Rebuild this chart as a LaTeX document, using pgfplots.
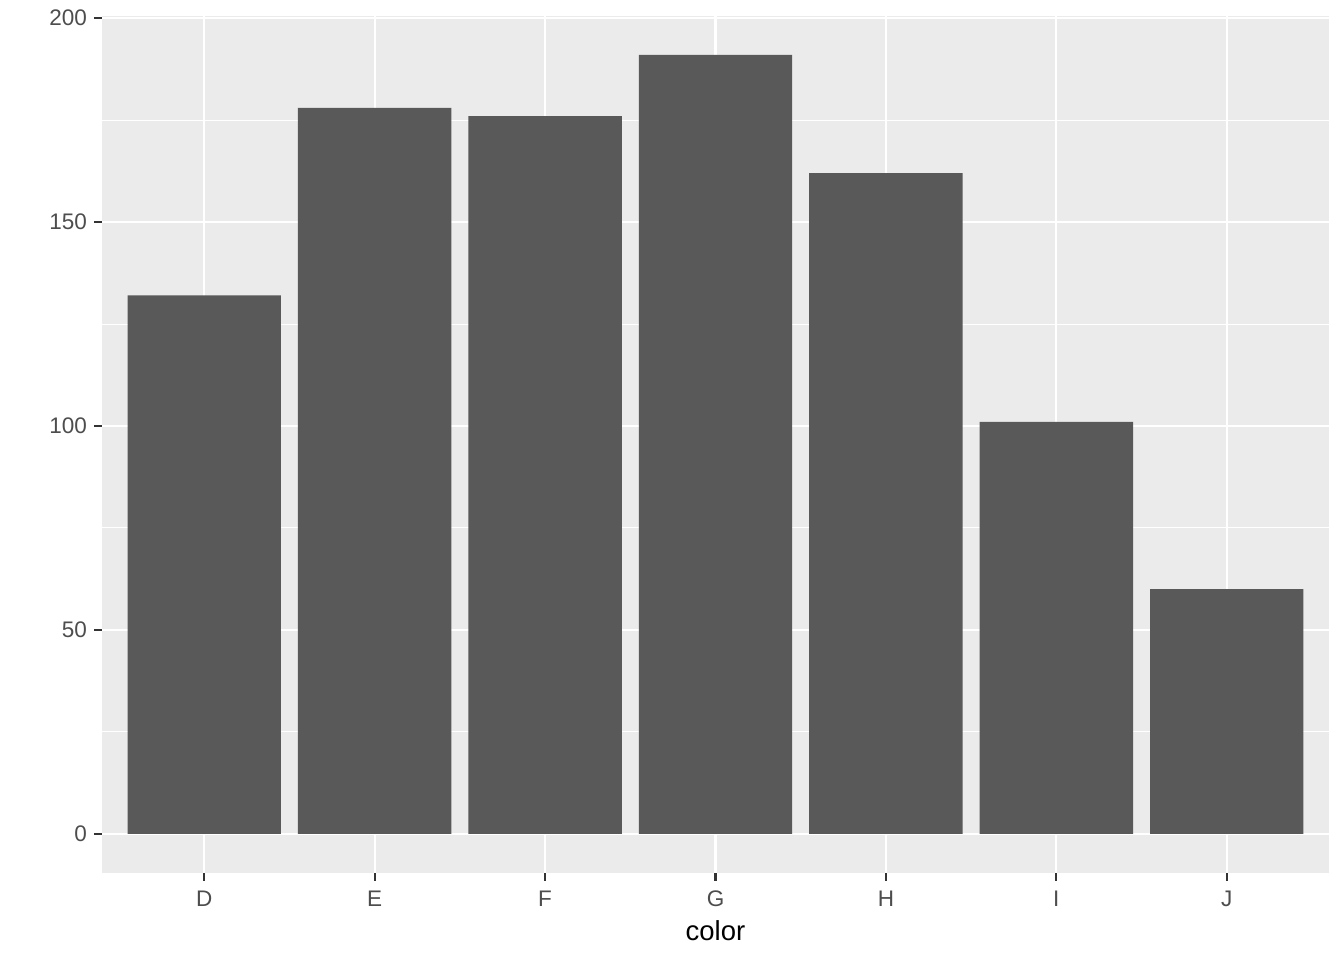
\documentclass[border=0pt]{standalone}
\usepackage{pgfplots}
\pgfplotsset{compat=1.18}
\usepackage{fontspec}
\setmainfont{Liberation Sans}
\definecolor{panelbg}{HTML}{EBEBEB}
\definecolor{barfill}{HTML}{595959}
\definecolor{ticklab}{HTML}{4D4D4D}
\definecolor{tickcol}{HTML}{333333}
\begin{document}
\begin{tikzpicture}[x=1bp,y=1bp]
  \path[use as bounding box] (0,0) rectangle (672,480);
  \begin{axis}[
      at={(51bp,43.65bp)},
      anchor=south west,
      scale only axis,
      width=613.5bp,
      height=428.35bp,
      xmin=0.4, xmax=7.6,
      ymin=-9.55, ymax=200.55,
      xtick={1,2,3,4,5,6,7},
      xticklabels={D,E,F,G,H,I,J},
      ytick={0,50,100,150,200},
      minor ytick={25,75,125,175},
      xtick pos=bottom,
      ytick pos=left,
      tick align=outside,
      major tick length=4bp,
      minor tick length=0pt,
      tick style={color=tickcol, line width=1.07bp},
      axis line style={draw=none},
      axis background/.style={fill=panelbg},
      xmajorgrids, ymajorgrids, yminorgrids,
      major grid style={white, line width=1.07bp},
      minor grid style={white, line width=0.53bp},
      ticklabel style={font=\fontsize{11.3}{13}\selectfont, text=ticklab},
      xticklabel style={yshift=-1.5bp},
      /pgf/number format/assume math mode=true,
      xlabel={color},
      xlabel style={font=\fontsize{13.8}{16}\selectfont, text=black, yshift=0bp},
      ybar,
      bar width=0.9,
      bar shift=0pt,
  ]
  \addplot[fill=barfill, draw=none] coordinates {
      (1,132) (2,178) (3,176) (4,191) (5,162) (6,101) (7,60)
  };
  \end{axis}
\end{tikzpicture}
\end{document}
